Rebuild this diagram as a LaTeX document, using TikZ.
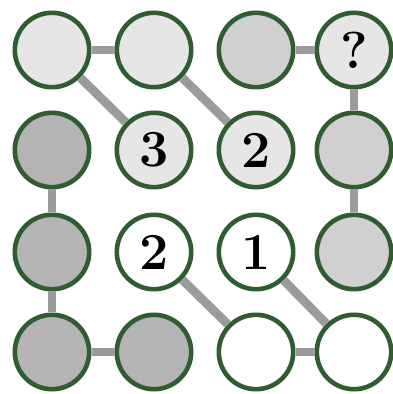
\documentclass[tikz,border=0pt]{standalone}
\usepackage{tikz}
\definecolor{ringgreen}{HTML}{2F5C30}
\definecolor{linkgray}{HTML}{9B9B9B}
\definecolor{lightfill}{HTML}{E6E6E6}
\definecolor{midfill}{HTML}{D0D0D0}
\definecolor{darkfill}{HTML}{B4B4B4}
\tikzset{
    dot/.style={draw=ringgreen, circle, line width=0.115cm, minimum size=1.86cm, inner sep=0pt, font=\fontsize{37}{37}\selectfont\bfseries},
    light/.style={dot, fill=lightfill},
    mid/.style={dot, fill=midfill},
    dark/.style={dot, fill=darkfill},
    blank/.style={dot, fill=white},
    link/.style={draw=linkgray, line width=0.22cm}
}

\begin{document}
\begin{tikzpicture}
        \useasboundingbox (0,0) rectangle (9.825,9.85);

        % Top row
        \node [light] (a1) at (1.3,8.6) {};
        \node [light] (a2) at (3.85,8.6) {};
        \node [mid] (a3) at (6.4,8.6) {};
        \node [light] (a4) at (8.85,8.6) {?};

        % Second row
        \node [dark] (b1) at (1.3,6.1) {};
        \node [light] (b2) at (3.85,6.1) {3};
        \node [light] (b3) at (6.4,6.1) {2};
        \node [mid] (b4) at (8.85,6.1) {};

        % Third row
        \node [dark] (c1) at (1.3,3.55) {};
        \node [blank] (c2) at (3.85,3.55) {2};
        \node [blank] (c3) at (6.4,3.55) {1};
        \node [mid] (c4) at (8.85,3.55) {};

        % Bottom row
        \node [dark] (d1) at (1.3,1.05) {};
        \node [dark] (d2) at (3.85,1.05) {};
        \node [blank] (d3) at (6.4,1.05) {};
        \node [blank] (d4) at (8.85,1.05) {};

        % Links
        \draw [link] (a1) -- (a2);
        \draw [link] (a1) -- (b2);
        \draw [link] (a2) -- (b3);
        \draw [link] (a3) -- (a4);
        \draw [link] (a4) -- (b4);
        \draw [link] (b4) -- (c4);
        \draw [link] (b1) -- (c1);
        \draw [link] (c1) -- (d1);
        \draw [link] (d1) -- (d2);
        \draw [link] (c2) -- (d3);
        \draw [link] (c3) -- (d4);
        \draw [link] (d3) -- (d4);
    \end{tikzpicture}
\end{document}
